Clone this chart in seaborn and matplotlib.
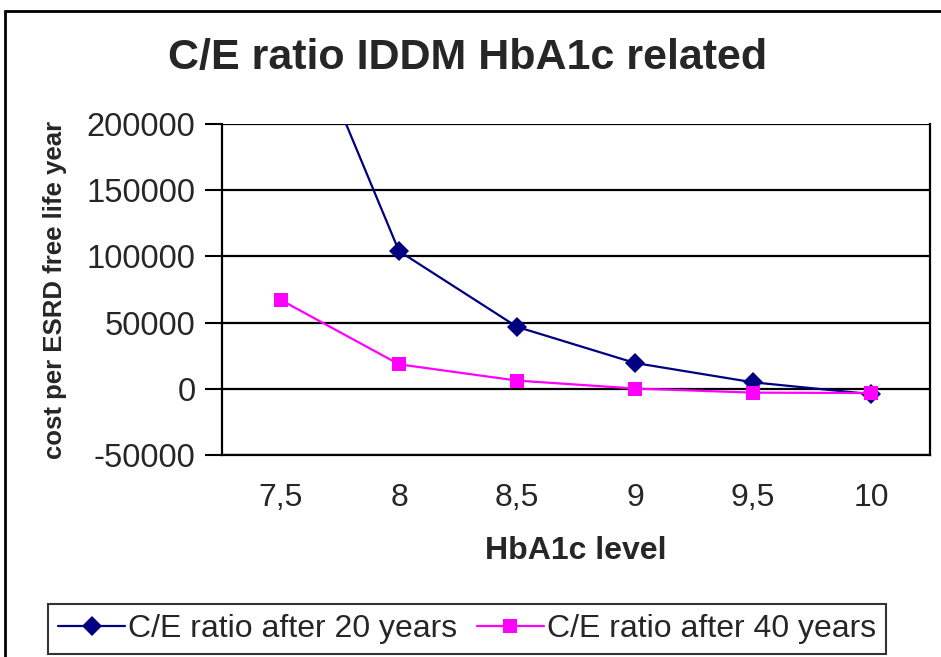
import numpy as np
import pandas as pd
import matplotlib
matplotlib.use("Agg")
import matplotlib.pyplot as plt
from matplotlib.patches import Rectangle
import seaborn as sns

# data
hba1c = ["7,5", "8", "8,5", "9", "9,5", "10"]
ce_20 = [318000, 104000, 46800, 19500, 4900, -4000]
ce_40 = [67000, 18500, 6200, 200, -2900, -3200]
series_names = ["C/E ratio after 20 years", "C/E ratio after 40 years"]

df = pd.DataFrame({
    "pos": list(range(len(hba1c))) * 2,
    "value": ce_20 + ce_40,
    "series": [series_names[0]] * len(hba1c) + [series_names[1]] * len(hba1c),
})

sns.set_style("white")
plt.rcParams["font.family"] = ["Liberation Sans", "DejaVu Sans"]

fig = plt.figure(figsize=(9.41, 6.57), dpi=100)
ax = fig.add_axes([222 / 941, 1 - 455 / 657, (930 - 222) / 941, (455 - 124) / 657])

sns.lineplot(data=df, x="pos", y="value", hue="series", style="series",
             palette=["#000080", "#FF00FF"], markers=["D", "s"], dashes=False,
             markersize=10, linewidth=1.6, markeredgewidth=0, ax=ax, legend=True)

ax.set_xlim(-0.5, len(hba1c) - 0.5)
ax.set_ylim(-50000, 200000)
ax.set_yticks(np.arange(-50000, 200001, 50000))
ax.set_yticklabels([f"{v:d}" for v in range(-50000, 200001, 50000)])
ax.set_xticks(range(len(hba1c)))
ax.set_xticklabels(hba1c)
ax.set_xticks(np.arange(-0.5, len(hba1c), 1), minor=True)
ax.tick_params(axis="x", which="major", length=0, pad=20, labelsize=23)
ax.tick_params(axis="x", which="minor", length=10, width=1.5, color="black", direction="out")
ax.tick_params(axis="y", length=12, width=1.5, color="black", direction="out",
               labelsize=23.5, pad=7, left=True)
ax.yaxis.grid(True, color="black", linewidth=1.6)
ax.set_axisbelow(True)
for side in ["left", "bottom", "right"]:
    ax.spines[side].set_visible(True)
    ax.spines[side].set_color("black")
    ax.spines[side].set_linewidth(1.6)
ax.spines["top"].set_visible(False)

ax.set_xlabel("HbA1c level", fontsize=23, fontweight="bold", labelpad=17)
ax.set_ylabel("cost per ESRD free life year", fontsize=18.5, fontweight="bold", labelpad=14)
fig.text(468 / 941, 1 - 58 / 657, "C/E ratio IDDM HbA1c related", fontsize=31,
         fontweight="bold", ha="center", va="center")

handles, labels = ax.get_legend_handles_labels()
ax.get_legend().remove()
fig.legend(handles, labels, loc="center", ncol=2,
           bbox_to_anchor=(467 / 941, 1 - 629 / 657),
           frameon=True, fancybox=False, edgecolor="black",
           fontsize=23, handlelength=2.1, handletextpad=0.1, columnspacing=0.6,
           borderpad=0.3, borderaxespad=0)
fig.legends[0].get_frame().set_linewidth(1.5)

# outer chart border (cropped at right/bottom)
fig.patches.append(Rectangle((5 / 941, -0.2), 1.2, (1 - 11 / 657) + 0.2,
                             transform=fig.transFigure, fill=False,
                             edgecolor="black", linewidth=2))

fig.savefig("out.png", dpi=100)
